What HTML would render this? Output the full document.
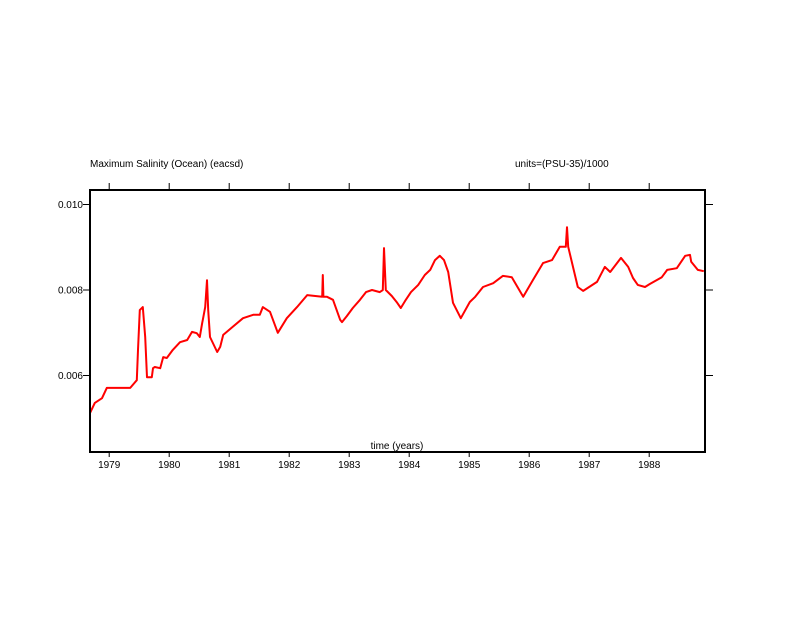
<!DOCTYPE html>
<html><head><meta charset="utf-8"><style>
body{margin:0;background:#fff;}
svg text{font-family:"Liberation Sans",sans-serif;font-size:10px;fill:#000;}
</style></head><body>
<svg id="chart" width="792" height="612" viewBox="0 0 792 612" xmlns="http://www.w3.org/2000/svg">
<text x="90" y="167">Maximum Salinity (Ocean) (eacsd)</text>
<text x="515" y="167">units=(PSU-35)/1000</text>
<g id="axes"></g>
<path id="series" fill="none" stroke="#ff0000" stroke-width="2" stroke-linejoin="round"/>
<rect x="90" y="190" width="615" height="262" fill="none" stroke="#000" stroke-width="2"/>
<text x="397" y="449" text-anchor="middle">time (years)</text>
</svg>
<script>
const years=[1978.68,1978.76,1978.88,1978.96,1979.35,1979.46,1979.48,1979.51,1979.56,1979.60,1979.63,1979.71,1979.73,1979.76,1979.85,1979.90,1979.96,1980.06,1980.18,1980.30,1980.38,1980.46,1980.51,1980.55,1980.56,1980.60,1980.63,1980.65,1980.68,1980.80,1980.85,1980.90,1981.05,1981.23,1981.40,1981.51,1981.56,1981.68,1981.81,1981.96,1982.13,1982.30,1982.55,1982.56,1982.57,1982.63,1982.73,1982.85,1982.88,1982.96,1983.06,1983.18,1983.28,1983.38,1983.51,1983.56,1983.58,1983.61,1983.71,1983.80,1983.86,1983.93,1984.03,1984.15,1984.26,1984.35,1984.43,1984.51,1984.58,1984.65,1984.73,1984.86,1985.01,1985.10,1985.23,1985.40,1985.56,1985.71,1985.90,1986.06,1986.23,1986.38,1986.51,1986.61,1986.63,1986.65,1986.81,1986.90,1987.13,1987.26,1987.35,1987.53,1987.65,1987.73,1987.81,1987.93,1988.01,1988.21,1988.30,1988.46,1988.60,1988.68,1988.70,1988.81,1988.91];
const values=[0.00512,0.00536,0.00547,0.00571,0.00571,0.00589,0.00660,0.00753,0.00760,0.00690,0.00596,0.00596,0.00617,0.00620,0.00617,0.00643,0.00641,0.00660,0.00678,0.00683,0.00702,0.00699,0.00690,0.00723,0.00730,0.00760,0.00823,0.00753,0.00690,0.00655,0.00667,0.00695,0.00713,0.00734,0.00742,0.00742,0.00760,0.00749,0.00700,0.00734,0.00760,0.00788,0.00784,0.00835,0.00784,0.00784,0.00777,0.00730,0.00725,0.00739,0.00758,0.00777,0.00795,0.00800,0.00795,0.00800,0.00898,0.00800,0.00786,0.00770,0.00758,0.00774,0.00795,0.00812,0.00835,0.00847,0.00870,0.00880,0.00870,0.00842,0.00770,0.00734,0.00772,0.00784,0.00807,0.00816,0.00833,0.00830,0.00784,0.00823,0.00863,0.00870,0.00901,0.00901,0.00947,0.00901,0.00807,0.00798,0.00819,0.00854,0.00842,0.00875,0.00854,0.00828,0.00812,0.00807,0.00814,0.00830,0.00847,0.00851,0.00880,0.00882,0.00866,0.00847,0.00844];
const xTicks=[1979,1980,1981,1982,1983,1984,1985,1986,1987,1988];
const yTicks=[0.006,0.008,0.010];
const yTickLabels=["0.006","0.008","0.010"];
function xs(t){return 90+(t-1978.68)*60;}
function ys(v){return 290-(v-0.008)*42750;}
const NS="http://www.w3.org/2000/svg";
const g=document.getElementById('axes');
function mk(tag,attrs){const e=document.createElementNS(NS,tag);for(const k in attrs)e.setAttribute(k,attrs[k]);g.appendChild(e);return e;}
xTicks.forEach(t=>{
  const x=xs(t);
  const a=mk('line',{x1:x,x2:x,y1:183,y2:190,stroke:'#000'});
  
  
  const b=mk('line',{x1:x,x2:x,y1:452,y2:457,stroke:'#000'});
  
  
  const l=mk('text',{x:x,y:468,'text-anchor':'middle'});
  l.textContent=t;
  
  
});
yTicks.forEach((v,i)=>{
  const y=ys(v);
  const a=mk('line',{x1:83,x2:90,y1:y,y2:y,stroke:'#000'});
  
  
  const b=mk('line',{x1:705,x2:713,y1:y,y2:y,stroke:'#000'});
  
  
  const l=mk('text',{x:83,y:y+3.5,'text-anchor':'end'});
  l.textContent=yTickLabels[i];
  
  
});
document.getElementById('series').setAttribute('d',years.map((t,i)=>(i?'L':'M')+xs(t).toFixed(1)+','+ys(values[i]).toFixed(1)).join(''));
</script>
</body></html>
